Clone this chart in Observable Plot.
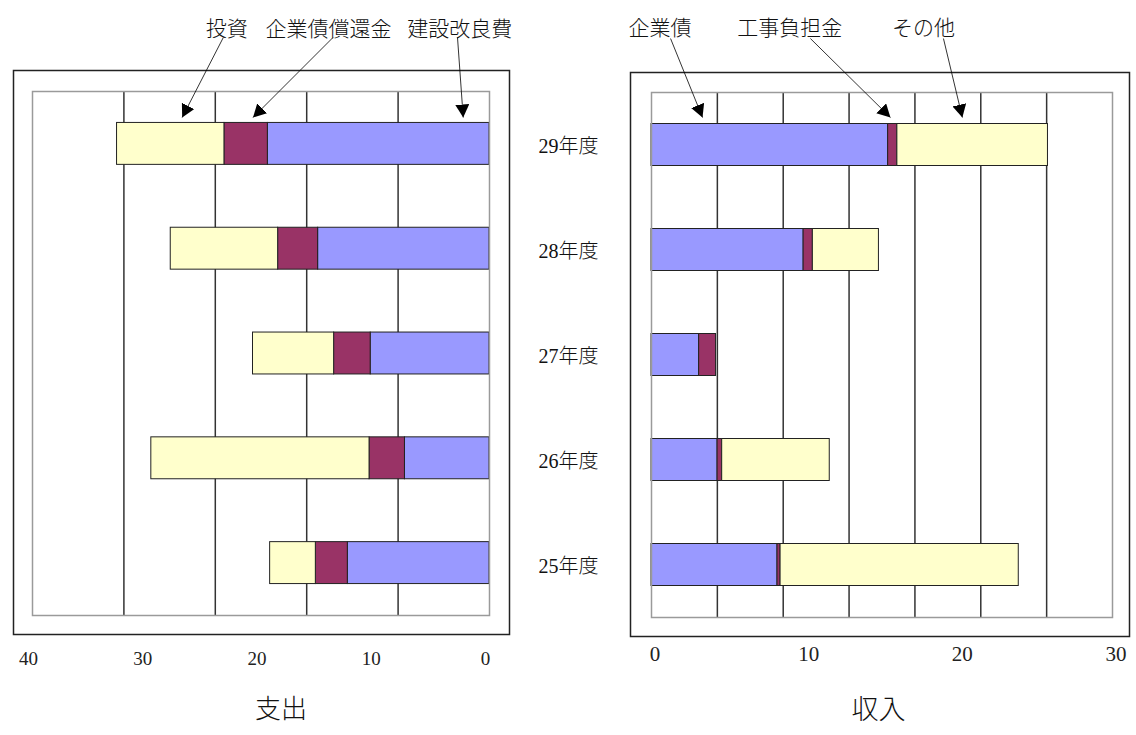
<!DOCTYPE html>
<html>
<head>
<meta charset="utf-8">
<script src="https://cdn.jsdelivr.net/npm/d3@7"></script>
<script src="https://cdn.jsdelivr.net/npm/@observablehq/plot@0.6"></script>
<style>
  html, body { margin: 0; padding: 0; background: #fff; }
  #wrap { position: relative; width: 1136px; height: 735px; overflow: hidden; background: #fff; }
  #wrap svg { position: absolute; top: 0; }
  #wrap svg text { font-family: "Liberation Serif", "Noto Sans CJK JP", serif; font-weight: 300; }
</style>
</head>
<body>
<div id="wrap"></div>
<script>
// ---------- data ----------
const years = ["29年度", "28年度", "27年度", "26年度", "25年度"];

// 支出 (expenditure)
const outSeries = ["建設改良費", "企業債償還金", "投資"];
const outKensetsu = [19.4, 15.0, 10.4, 7.4, 12.4];
const outShokan   = [3.8, 3.5, 3.2, 3.1, 2.8];
const outToshi    = [9.4, 9.4, 7.1, 19.1, 4.0];
const outTicks = [40, 30, 20, 10, 0];
const outGrid = [8, 16, 24, 32];

// 収入 (income)
const inSeries = ["企業債", "工事負担金", "その他"];
const inKigyosai = [15.4, 9.9, 3.1, 4.3, 8.2];
const inKoji     = [0.6, 0.6, 1.1, 0.3, 0.2];
const inSonota   = [9.8, 4.3, 0, 7.0, 15.5];
const inTicks = [0, 10, 20, 30];
const inGrid = [1, 2, 3, 4, 5, 6].map(i => i * 30 / 7);

const segColors = ["#9999ff", "#993366", "#ffffcc"];

// ---------- annotation layout (label and arrow placement) ----------
const outNotes = [
  {label: "投資",         x: 23.0, ax: 23.3, bx: 26.9},
  {label: "企業債償還金", x: 14.1, ax: 13.7, bx: 20.7},
  {label: "建設改良費",   x: 2.6,  ax: 2.8,  bx: 2.3}
];
const inNotes = [
  {label: "企業債",     x: 0.55, ax: 1.24,  bx: 3.32},
  {label: "工事負担金", x: 9.0,  ax: 10.34, bx: 15.55},
  {label: "その他",     x: 17.7, ax: 19.0,  bx: 20.23}
];

const FONT = "'Liberation Serif','Noto Sans CJK JP',serif";

function stackRows(series, arrays) {
  const rows = [];
  years.forEach((yr, i) => {
    let cum = 0;
    series.forEach((s, k) => {
      const v = arrays[k][i];
      if (v > 0) rows.push({year: yr, row: i, series: s, x1: cum, x2: cum + v});
      cum += v;
    });
  });
  return rows;
}

const outRows = stackRows(outSeries, [outKensetsu, outShokan, outToshi]);
const inRows = stackRows(inSeries, [inKigyosai, inKoji, inSonota]);

function addHeads(svg, id) {
  const s = d3.select(svg);
  s.append("defs").append("marker")
    .attr("id", id)
    .attr("markerUnits", "userSpaceOnUse")
    .attr("markerWidth", 14).attr("markerHeight", 14)
    .attr("refX", 13).attr("refY", 7)
    .attr("orient", "auto")
    .append("path").attr("d", "M0,0L13,7L0,14Z").attr("fill", "#000");
  s.selectAll('g[aria-label="link"] path').attr("marker-end", `url(#${id})`);
}

// ---------- left: 支出 ----------
const left = Plot.plot({
  width: 620, height: 735,
  marginLeft: 32, marginRight: 131, marginTop: 91, marginBottom: 120,
  x: {domain: [0, 40], reverse: true, axis: null},
  y: {domain: [0, 5], reverse: true, axis: null},
  color: {domain: outSeries, range: segColors},
  style: {fontFamily: FONT, background: "transparent", overflow: "visible", color: "#111"},
  marks: [
    Plot.ruleX(outGrid, {stroke: "#333", strokeWidth: 1.5}),
    Plot.rect(outRows, {x1: "x1", x2: "x2", y1: d => d.row + 0.3, y2: d => d.row + 0.7, fill: "series", stroke: "#222", strokeWidth: 1}),
    Plot.frame({stroke: "#9a9a9a", strokeWidth: 1.5}),
    Plot.frame({stroke: "#222", strokeWidth: 1.5, insetLeft: -19, insetRight: -20, insetTop: -21, insetBottom: -19}),
    Plot.text(outTicks, {x: d => d, frameAnchor: "bottom", dy: 49, dx: -4, fontSize: 19, fill: "#222"}),
    Plot.text(years, {x: () => 0, y: (d, i) => i + 0.5, dx: 79, dy: 3, fontSize: 20, fill: "#111"}),
    Plot.text(["支出"], {frameAnchor: "bottom", dy: 102, dx: 20, fontSize: 26, fill: "#111"}),
    Plot.text(outNotes, {x: "x", text: "label", frameAnchor: "top", dy: -70, fontSize: 21, fill: "#111"}),
    Plot.link(outNotes, {x1: "ax", x2: "bx", y1: () => -0.515, y2: () => 0.248, stroke: "#000", strokeWidth: 0.8})
  ]
});
addHeads(left, "headL");
left.style.left = "0px";

// ---------- right: 収入 ----------
const right = Plot.plot({
  width: 516, height: 735,
  marginLeft: 31, marginRight: 24, marginTop: 92, marginBottom: 118,
  x: {domain: [0, 30], axis: null},
  y: {domain: [0, 5], reverse: true, axis: null},
  color: {domain: inSeries, range: segColors},
  style: {fontFamily: FONT, background: "transparent", overflow: "visible", color: "#111"},
  marks: [
    Plot.ruleX(inGrid, {stroke: "#333", strokeWidth: 1.5}),
    Plot.rect(inRows, {x1: "x1", x2: "x2", y1: d => d.row + 0.3, y2: d => d.row + 0.7, fill: "series", stroke: "#222", strokeWidth: 1}),
    Plot.frame({stroke: "#9a9a9a", strokeWidth: 1.5}),
    Plot.frame({stroke: "#222", strokeWidth: 1.5, insetLeft: -21, insetRight: -17, insetTop: -20, insetBottom: -19}),
    Plot.text(inTicks, {x: d => d, frameAnchor: "bottom", dy: 43, dx: 3.5, fontSize: 21, fill: "#222"}),
    Plot.text(["収入"], {frameAnchor: "bottom", dy: 101, dx: -3.5, fontSize: 27, fill: "#111"}),
    Plot.text(inNotes, {x: "x", text: "label", frameAnchor: "top", dy: -72, fontSize: 21, fill: "#111"}),
    Plot.link(inNotes, {x1: "ax", x2: "bx", y1: () => -0.514, y2: () => 0.238, stroke: "#000", strokeWidth: 0.8})
  ]
});
addHeads(right, "headR");
right.style.left = "620px";

const wrap = document.getElementById("wrap");
wrap.appendChild(left);
wrap.appendChild(right);
</script>
</body>
</html>
